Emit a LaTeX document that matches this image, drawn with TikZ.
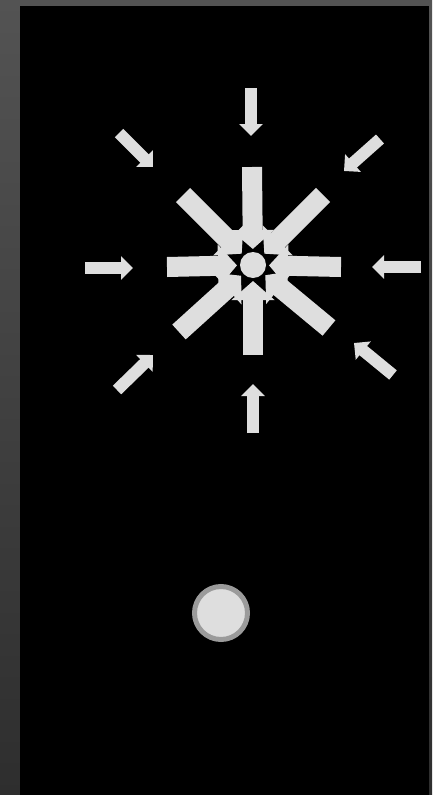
\documentclass[tikz,border=0pt]{standalone}
\usetikzlibrary{arrows.meta,calc}

\definecolor{frametop}{RGB}{83,83,83}
\definecolor{framebottom}{RGB}{46,46,46}
\definecolor{arrowgray}{RGB}{222,222,222}
\definecolor{ringgray}{RGB}{155,155,155}

\begin{document}
\begin{tikzpicture}[
    x=1pt, y=-1pt,
    bigarrow/.style={draw=arrowgray, line width=20pt,
        -{Triangle[width=42pt,length=19pt]}},
    smallarrow/.style={draw=arrowgray, line width=12pt,
        -{Triangle[width=23pt,length=12pt]}}
]

% Frame
\shade[top color=frametop, bottom color=framebottom] (0,0) rectangle (432,795);
\fill[black] (20,6) rectangle (429,795);

% Outer ring of small arrows
\foreach \ax/\ay/\bx/\by in {251/88/251/136, 253/433/253/384,
        85/268/133/268, 421/267/372/267,
        119/133/153/167, 380/139/344/171,
        117/390/153/355, 393/375/354/343}
    \draw[smallarrow] (\ax,\ay) -- (\bx,\by);

% Inner burst
\coordinate (hub) at (253,265);
\foreach \tx/\ty in {183/195, 323/195, 179/332, 329/328,
        167/267, 341/267, 252/167, 253/355}
    \draw[bigarrow] (\tx,\ty) -- ($(hub)!16pt!(\tx,\ty)$);
\fill[arrowgray] (hub) circle (13);

% Button
\draw[line width=5pt, draw=ringgray, fill=arrowgray] (221,613) circle (26.5);

\end{tikzpicture}
\end{document}
